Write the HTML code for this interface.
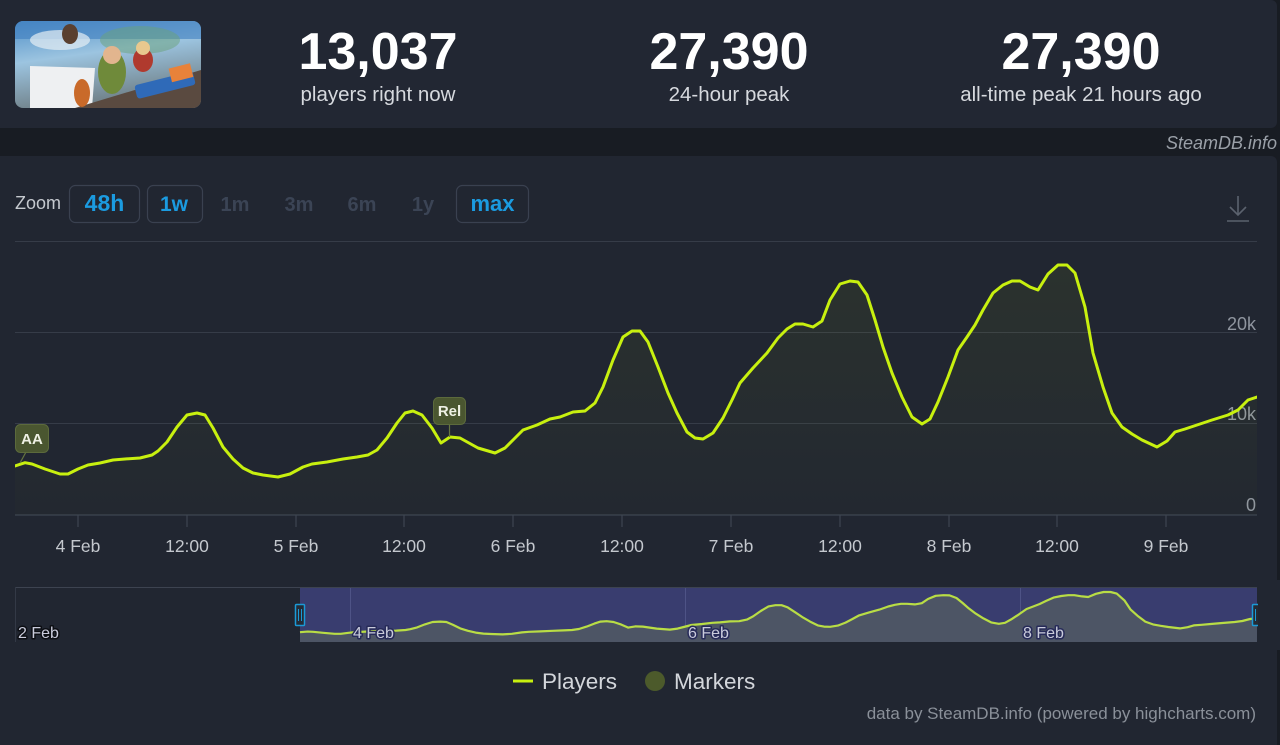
<!DOCTYPE html>
<html><head><meta charset="utf-8"><style>
html,body{margin:0;padding:0;background:#181c23;}
svg{display:block;}
text{font-family:"Liberation Sans",sans-serif;}
</style></head><body>
<svg width="1280" height="745" viewBox="0 0 1280 745" xmlns="http://www.w3.org/2000/svg">
<defs>
<linearGradient id="sky" x1="0" y1="0" x2="0.3" y2="1">
<stop offset="0" stop-color="#4f8fc8"/><stop offset="0.45" stop-color="#9cc4e0"/><stop offset="1" stop-color="#6f7f86"/>
</linearGradient>
<linearGradient id="area" x1="0" y1="0" x2="0" y2="1">
<stop offset="0" stop-color="#c8f000" stop-opacity="0.06"/><stop offset="1" stop-color="#c8f000" stop-opacity="0.01"/>
</linearGradient>
<clipPath id="thumb"><rect x="15" y="21" width="186" height="87" rx="8"/></clipPath>
<clipPath id="plot"><rect x="15" y="230" width="1242" height="286"/></clipPath>
</defs>
<rect x="0" y="0" width="1280" height="745" fill="#181c23"/>
<rect x="-10" y="0" width="1287" height="128" rx="6" fill="#222733"/>
<rect x="-10" y="156" width="1287" height="600" rx="6" fill="#212631"/>

<g clip-path="url(#thumb)">
<rect x="15" y="21" width="186" height="87" fill="url(#sky)"/>
<rect x="15" y="21" width="186" height="18" fill="#3f7fbf" opacity="0.6"/>
<ellipse cx="60" cy="40" rx="30" ry="10" fill="#e6eef4" opacity="0.7"/>
<polygon points="30,66 95,68 92,108 30,108" fill="#eef0f2"/>
<ellipse cx="140" cy="40" rx="40" ry="14" fill="#6aa27a" opacity="0.5"/>
<polygon points="75,108 201,70 201,108" fill="#5a4a40"/>
<ellipse cx="112" cy="72" rx="14" ry="22" fill="#6f8a3a"/>
<circle cx="112" cy="55" r="9" fill="#e2b58e"/>
<ellipse cx="143" cy="60" rx="10" ry="12" fill="#b03a2e"/>
<circle cx="143" cy="48" r="7" fill="#e8c88e"/>
<ellipse cx="82" cy="93" rx="8" ry="14" fill="#c96a2a"/>
<rect x="135" y="78" width="60" height="14" rx="3" fill="#2f6ab8" transform="rotate(-14 165 85)"/>
<rect x="170" y="66" width="22" height="14" fill="#e8823a" transform="rotate(-14 180 73)"/>
<ellipse cx="70" cy="34" rx="8" ry="10" fill="#5a4030"/>
</g>

<g fill="#ffffff" font-weight="bold" font-size="52" text-anchor="middle">
<text x="378" y="69">13,037</text>
<text x="729" y="69">27,390</text>
<text x="1081" y="69">27,390</text>
</g>
<g fill="#d6d9de" font-size="20.5" text-anchor="middle">
<text x="378" y="101">players right now</text>
<text x="729" y="101">24-hour peak</text>
<text x="1081" y="101">all-time peak 21 hours ago</text>
</g>
<text x="1277" y="149" text-anchor="end" font-size="18" font-style="italic" fill="#9aa0a8">SteamDB.info</text>

<text x="15" y="209" font-size="18" fill="#c5c9cf">Zoom</text>
<g fill="none" stroke="#3a4150" stroke-width="1.2">
<rect x="69.5" y="185.5" width="70" height="37" rx="6"/>
<rect x="147.5" y="185.5" width="55" height="37" rx="6"/>
<rect x="456.5" y="185.5" width="72" height="37" rx="6"/>
</g>
<g font-size="20" font-weight="bold" text-anchor="middle">
<text x="104.5" y="211" fill="#1b9be0" font-size="23">48h</text>
<text x="174" y="211" fill="#1b9be0" font-size="21">1w</text>
<text x="235" y="211" fill="#3b4455">1m</text>
<text x="299" y="211" fill="#3b4455">3m</text>
<text x="362" y="211" fill="#3b4455">6m</text>
<text x="423" y="211" fill="#3b4455">1y</text>
<text x="492.5" y="211" fill="#1b9be0" font-size="22">max</text>
</g>
<g stroke="#5b626e" stroke-width="1.6" fill="none">
<line x1="1238" y1="196" x2="1238" y2="215"/>
<polyline points="1230,207 1238,215 1246,207"/>
<line x1="1227" y1="221" x2="1249" y2="221"/>
</g>

<g stroke="#363c48" stroke-width="1">
<line x1="15" y1="241.5" x2="1257" y2="241.5"/>
<line x1="15" y1="332.5" x2="1257" y2="332.5"/>
<line x1="15" y1="423.5" x2="1257" y2="423.5"/>
</g>
<line x1="15" y1="515" x2="1257" y2="515" stroke="#3e4552" stroke-width="1.2"/>
<g stroke="#3e4552" stroke-width="1.2">
<line x1="78" y1="515" x2="78" y2="527"/>
<line x1="187" y1="515" x2="187" y2="527"/>
<line x1="296" y1="515" x2="296" y2="527"/>
<line x1="404" y1="515" x2="404" y2="527"/>
<line x1="513" y1="515" x2="513" y2="527"/>
<line x1="622" y1="515" x2="622" y2="527"/>
<line x1="731" y1="515" x2="731" y2="527"/>
<line x1="840" y1="515" x2="840" y2="527"/>
<line x1="949" y1="515" x2="949" y2="527"/>
<line x1="1057" y1="515" x2="1057" y2="527"/>
<line x1="1166" y1="515" x2="1166" y2="527"/>
</g>
<g font-size="17.5" fill="#c4c8ce" text-anchor="middle">
<text x="78" y="552">4 Feb</text>
<text x="187" y="552">12:00</text>
<text x="296" y="552">5 Feb</text>
<text x="404" y="552">12:00</text>
<text x="513" y="552">6 Feb</text>
<text x="622" y="552">12:00</text>
<text x="731" y="552">7 Feb</text>
<text x="840" y="552">12:00</text>
<text x="949" y="552">8 Feb</text>
<text x="1057" y="552">12:00</text>
<text x="1166" y="552">9 Feb</text>
</g>
<g font-size="18" fill="#8f959f" text-anchor="end">
<text x="1256" y="330">20k</text>
<text x="1256" y="420">10k</text>
<text x="1256" y="511">0</text>
</g>

<g clip-path="url(#plot)">
<path d="M15,466 L25,462.7 L32,464 L45,469 L60,474 L68,474 L78,469 L88,465 L100,463 L113,460 L125,459 L140,458 L152,455 L158,451 L167,442 L177,427 L187,415 L197,413 L205,415 L213,428 L223,447 L233,459 L243,468 L253,473 L263,475 L278,477 L290,474 L303,467 L312,464 L327,462 L343,459 L357,457 L368,455 L377,450 L387,438 L397,423 L405,413 L413,411 L422,415 L432,428 L441,443 L450,437 L460,438 L478,448 L495,453 L505,448 L513,440 L523,430 L537,425 L550,419 L560,417 L573,412 L585,411 L595,403 L603,387 L613,360 L623,337 L632,331 L640,331 L648,342 L658,367 L668,393 L677,413 L687,432 L695,438 L703,439 L713,433 L723,418 L732,400 L740,383 L753,368 L767,353 L778,338 L787,329 L795,324 L803,324 L813,327 L822,321 L830,300 L840,284 L850,281 L858,282 L867,295 L875,320 L883,347 L892,373 L902,397 L912,417 L922,424 L930,419 L938,402 L948,377 L958,350 L967,337 L975,325 L983,310 L993,293 L1003,285 L1012,281 L1020,281 L1030,287 L1038,290 L1048,274 L1058,265 L1067,265 L1075,273 L1085,307 L1093,353 L1103,387 L1112,413 L1122,427 L1132,434 L1142,440 L1157,447 L1167,441 L1175,432 L1185,429 L1197,425 L1212,420 L1228,415 L1238,410 L1248,400 L1257,397 L1257,515 L15,515 Z" fill="url(#area)"/>
<path d="M15,466 L25,462.7 L32,464 L45,469 L60,474 L68,474 L78,469 L88,465 L100,463 L113,460 L125,459 L140,458 L152,455 L158,451 L167,442 L177,427 L187,415 L197,413 L205,415 L213,428 L223,447 L233,459 L243,468 L253,473 L263,475 L278,477 L290,474 L303,467 L312,464 L327,462 L343,459 L357,457 L368,455 L377,450 L387,438 L397,423 L405,413 L413,411 L422,415 L432,428 L441,443 L450,437 L460,438 L478,448 L495,453 L505,448 L513,440 L523,430 L537,425 L550,419 L560,417 L573,412 L585,411 L595,403 L603,387 L613,360 L623,337 L632,331 L640,331 L648,342 L658,367 L668,393 L677,413 L687,432 L695,438 L703,439 L713,433 L723,418 L732,400 L740,383 L753,368 L767,353 L778,338 L787,329 L795,324 L803,324 L813,327 L822,321 L830,300 L840,284 L850,281 L858,282 L867,295 L875,320 L883,347 L892,373 L902,397 L912,417 L922,424 L930,419 L938,402 L948,377 L958,350 L967,337 L975,325 L983,310 L993,293 L1003,285 L1012,281 L1020,281 L1030,287 L1038,290 L1048,274 L1058,265 L1067,265 L1075,273 L1085,307 L1093,353 L1103,387 L1112,413 L1122,427 L1132,434 L1142,440 L1157,447 L1167,441 L1175,432 L1185,429 L1197,425 L1212,420 L1228,415 L1238,410 L1248,400 L1257,397" fill="none" stroke="#c8f00f" stroke-width="3" stroke-linejoin="round" stroke-linecap="round"/>
</g>

<line x1="26" y1="452" x2="20" y2="463" stroke="#66763f" stroke-width="1.2"/>
<rect x="15.5" y="424.5" width="33" height="28" rx="5" fill="#4a5630" stroke="#5c6a3c" stroke-width="1"/>
<text x="32" y="444" font-size="15" font-weight="bold" fill="#eef0e4" text-anchor="middle">AA</text>
<line x1="449.5" y1="425" x2="449.5" y2="437" stroke="#66763f" stroke-width="1.2"/>
<rect x="433.5" y="397.5" width="32" height="27" rx="5" fill="#4a5630" stroke="#5c6a3c" stroke-width="1"/>
<text x="449.5" y="416" font-size="15" font-weight="bold" fill="#eef0e4" text-anchor="middle">Rel</text>

<rect x="300" y="587" width="957" height="55" fill="#393d6f"/>
<line x1="15" y1="587.5" x2="1257" y2="587.5" stroke="#3d4350" stroke-width="1"/>
<line x1="15.5" y1="587" x2="15.5" y2="642" stroke="#333946" stroke-width="1"/>
<g stroke="#4e5386" stroke-width="1">
<line x1="350.5" y1="588" x2="350.5" y2="642"/>
<line x1="685.5" y1="588" x2="685.5" y2="642"/>
<line x1="1020.5" y1="588" x2="1020.5" y2="642"/>
</g>
<g transform="matrix(0.7705,0,0,0.2,288.44,539)">
<path d="M15,466 L25,462.7 L32,464 L45,469 L60,474 L68,474 L78,469 L88,465 L100,463 L113,460 L125,459 L140,458 L152,455 L158,451 L167,442 L177,427 L187,415 L197,413 L205,415 L213,428 L223,447 L233,459 L243,468 L253,473 L263,475 L278,477 L290,474 L303,467 L312,464 L327,462 L343,459 L357,457 L368,455 L377,450 L387,438 L397,423 L405,413 L413,411 L422,415 L432,428 L441,443 L450,437 L460,438 L478,448 L495,453 L505,448 L513,440 L523,430 L537,425 L550,419 L560,417 L573,412 L585,411 L595,403 L603,387 L613,360 L623,337 L632,331 L640,331 L648,342 L658,367 L668,393 L677,413 L687,432 L695,438 L703,439 L713,433 L723,418 L732,400 L740,383 L753,368 L767,353 L778,338 L787,329 L795,324 L803,324 L813,327 L822,321 L830,300 L840,284 L850,281 L858,282 L867,295 L875,320 L883,347 L892,373 L902,397 L912,417 L922,424 L930,419 L938,402 L948,377 L958,350 L967,337 L975,325 L983,310 L993,293 L1003,285 L1012,281 L1020,281 L1030,287 L1038,290 L1048,274 L1058,265 L1067,265 L1075,273 L1085,307 L1093,353 L1103,387 L1112,413 L1122,427 L1132,434 L1142,440 L1157,447 L1167,441 L1175,432 L1185,429 L1197,425 L1212,420 L1228,415 L1238,410 L1248,400 L1257,397 L1257,515 L15,515 Z" fill="#4d5565"/>
<path d="M15,466 L25,462.7 L32,464 L45,469 L60,474 L68,474 L78,469 L88,465 L100,463 L113,460 L125,459 L140,458 L152,455 L158,451 L167,442 L177,427 L187,415 L197,413 L205,415 L213,428 L223,447 L233,459 L243,468 L253,473 L263,475 L278,477 L290,474 L303,467 L312,464 L327,462 L343,459 L357,457 L368,455 L377,450 L387,438 L397,423 L405,413 L413,411 L422,415 L432,428 L441,443 L450,437 L460,438 L478,448 L495,453 L505,448 L513,440 L523,430 L537,425 L550,419 L560,417 L573,412 L585,411 L595,403 L603,387 L613,360 L623,337 L632,331 L640,331 L648,342 L658,367 L668,393 L677,413 L687,432 L695,438 L703,439 L713,433 L723,418 L732,400 L740,383 L753,368 L767,353 L778,338 L787,329 L795,324 L803,324 L813,327 L822,321 L830,300 L840,284 L850,281 L858,282 L867,295 L875,320 L883,347 L892,373 L902,397 L912,417 L922,424 L930,419 L938,402 L948,377 L958,350 L967,337 L975,325 L983,310 L993,293 L1003,285 L1012,281 L1020,281 L1030,287 L1038,290 L1048,274 L1058,265 L1067,265 L1075,273 L1085,307 L1093,353 L1103,387 L1112,413 L1122,427 L1132,434 L1142,440 L1157,447 L1167,441 L1175,432 L1185,429 L1197,425 L1212,420 L1228,415 L1238,410 L1248,400 L1257,397" fill="none" stroke="#b9dd45" stroke-width="2.2" vector-effect="non-scaling-stroke" stroke-linejoin="round"/>
</g>
<g font-size="16" fill="#c9cbdb" paint-order="stroke" stroke-width="3" stroke-linejoin="round">
<text x="18" y="638" stroke="#0c0e13">2 Feb</text>
<text x="353" y="638" stroke="#272b59">4 Feb</text>
<text x="688" y="638" stroke="#272b59">6 Feb</text>
<text x="1023" y="638" stroke="#272b59">8 Feb</text>
</g>
<g fill="#252b35" stroke="#1b9ad6" stroke-width="1.5">
<rect x="295.5" y="604.5" width="9" height="21" rx="1"/>
<rect x="1252.5" y="604.5" width="9" height="21" rx="1"/>
</g>
<g stroke="#1b9ad6" stroke-width="1">
<line x1="298.5" y1="609" x2="298.5" y2="621"/><line x1="301.5" y1="609" x2="301.5" y2="621"/>
<line x1="1255.5" y1="609" x2="1255.5" y2="621"/>
</g>
<rect x="1258" y="580" width="25" height="70" fill="#212631"/>

<line x1="513" y1="681" x2="533" y2="681" stroke="#c8f00f" stroke-width="3"/>
<text x="542" y="689" font-size="22.5" fill="#d3d6db">Players</text>
<circle cx="655" cy="681" r="10" fill="#4c5a2b"/>
<text x="674" y="689" font-size="22.5" fill="#d3d6db">Markers</text>
<text x="1256" y="719" font-size="17" fill="#8a9099" text-anchor="end">data by SteamDB.info (powered by highcharts.com)</text>
</svg>
</body></html>
